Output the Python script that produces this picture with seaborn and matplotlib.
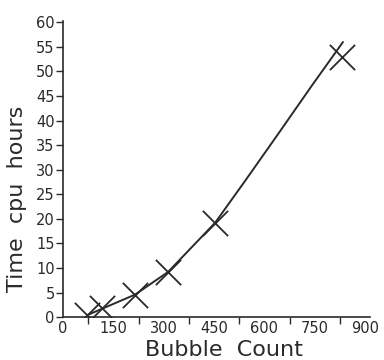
import matplotlib
matplotlib.use("Agg")
import matplotlib.pyplot as plt
import numpy as np
import pandas as pd
import seaborn as sns

# measured runs (crosses)
bubbles = [72, 116, 215, 313, 453, 830]
cpu_hours = [0.4, 1.8, 4.6, 9.1, 19.2, 53.0]

# fitted curve through the runs
fit_bubbles = [72, 116, 215, 313, 453, 540, 640, 740, 834]
fit_hours = [0.4, 1.7, 4.6, 9.2, 19.2, 27.5, 37.2, 47.0, 56.0]

x_ticks = [0, 150, 300, 450, 600, 750, 900]
y_ticks = list(range(0, 61, 5))

runs = pd.DataFrame({"bubbles": bubbles, "hours": cpu_hours})
fit = pd.DataFrame({"bubbles": fit_bubbles, "hours": fit_hours})

sns.set_style("ticks")
plt.rcParams["font.family"] = ["DejaVu Sans"]
ink = "#2a2a2a"

fig = plt.figure(figsize=(3.84, 3.6), dpi=100)
ax = fig.add_axes([0.164, 0.119, 0.80, 0.823])

sns.lineplot(data=fit, x="bubbles", y="hours", color=ink, linewidth=1.4,
             sort=False, ax=ax)
sns.scatterplot(data=runs, x="bubbles", y="hours", marker="x", s=330,
                color=ink, linewidth=1.3, ax=ax)

ax.set_xlim(0, 915)
ax.set_ylim(0, 60.3)
ax.set_xticks(x_ticks)
ax.set_xticks([75, 225, 375, 525, 675, 825], minor=True)
ax.set_yticks(y_ticks)
ax.tick_params(axis="x", which="major", length=0, pad=3, labelsize=10.5,
               colors=ink)
ax.tick_params(axis="x", which="minor", length=5, width=1, direction="out",
               color=ink)
ax.tick_params(axis="y", length=5, width=1, pad=1, labelsize=10.5, colors=ink)

for sp in ["top", "right"]:
    ax.spines[sp].set_visible(False)
for sp in ["left", "bottom"]:
    ax.spines[sp].set_color(ink)
    ax.spines[sp].set_linewidth(1.2)

ax.set_xlabel("Bubble  Count", fontsize=16, color=ink, va="center")
ax.set_ylabel("Time  cpu  hours", fontsize=16, color=ink, va="center")
ax.xaxis.set_label_coords(0.524, -0.112)
ax.yaxis.set_label_coords(-0.15, 0.40)

fig.savefig("out.png", dpi=100)
